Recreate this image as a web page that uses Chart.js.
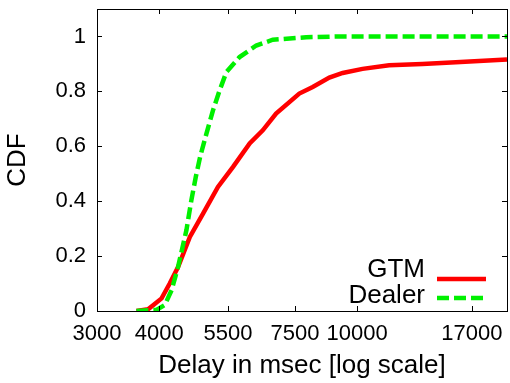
<!DOCTYPE html>
<html>
<head>
<meta charset="utf-8">
<script src="https://cdn.jsdelivr.net/npm/chart.js@4.4.1/dist/chart.umd.min.js"></script>
<style>
  body { margin: 0; background: #fff; }
  canvas { display: block; }
</style>
</head>
<body>
<canvas id="mycanvas" width="510" height="383"></canvas>
<script>
// values
var xTicks = [3000, 4000, 5500, 7500, 10000, 17000];
var yTicks = [0, 0.2, 0.4, 0.6, 0.8, 1];

var gtmX = [3600, 3800, 4045, 4200, 4365, 4610, 4900, 5250, 5630, 6080, 6460, 6870, 7650, 8140, 8790, 9350, 10250, 11590, 13520, 15780, 20000];
var gtmY = [0, 0.006, 0.046, 0.10, 0.16, 0.27, 0.355, 0.452, 0.525, 0.61, 0.658, 0.719, 0.792, 0.816, 0.85, 0.867, 0.882, 0.895, 0.90, 0.906, 0.916];

var dealerX = [3600, 3950, 4106, 4237, 4365, 4538, 4643, 4738, 4840, 4978, 5131, 5292, 5458, 5803, 6268, 6767, 7894, 9200, 20000];
var dealerY = [0, 0.004, 0.022, 0.076, 0.16, 0.295, 0.404, 0.488, 0.565, 0.646, 0.731, 0.804, 0.870, 0.925, 0.967, 0.988, 0.997, 1.0, 1.0];

function toPoints(xs, ys) {
  var pts = [];
  for (var i in xs) {
    pts.push({ x: xs[i], y: ys[i] });
  }
  return pts;
}

var FONT = "'Liberation Sans', Arial, Helvetica, sans-serif";

// frame, inward ticks on all four sides, and the legend box
var framePlugin = {
  id: 'frame',
  afterDraw: function(chart) {
    var ctx = chart.ctx;
    var a = chart.chartArea;
    var xs = chart.scales.x, ys = chart.scales.y;
    var tl = 5;
    ctx.save();
    ctx.strokeStyle = '#000';
    ctx.lineWidth = 1;
    ctx.beginPath();
    xTicks.forEach(function(v) {
      var px = Math.round(xs.getPixelForValue(v)) + 0.5;
      ctx.moveTo(px, a.bottom); ctx.lineTo(px, a.bottom - tl);
      ctx.moveTo(px, a.top); ctx.lineTo(px, a.top + tl);
    });
    yTicks.forEach(function(v) {
      var py = Math.round(ys.getPixelForValue(v)) + 0.5;
      ctx.moveTo(a.left, py); ctx.lineTo(a.left + tl, py);
      ctx.moveTo(a.right, py); ctx.lineTo(a.right - tl, py);
    });
    ctx.stroke();
    ctx.strokeRect(Math.round(a.left) + 0.5, Math.round(a.top) + 0.5,
                   Math.round(a.right - a.left), Math.round(a.bottom - a.top));

    // legend
    ctx.font = '26px ' + FONT;
    ctx.fillStyle = '#000';
    ctx.textAlign = 'right';
    ctx.textBaseline = 'alphabetic';
    var rows = [
      { ds: chart.data.datasets[0], base: 277, ly: 279 },
      { ds: chart.data.datasets[1], base: 303, ly: 298 }
    ];
    rows.forEach(function(r) {
      ctx.fillText(r.ds.label, 425, r.base);
      ctx.beginPath();
      ctx.strokeStyle = r.ds.borderColor;
      ctx.lineWidth = r.ds.borderWidth;
      ctx.setLineDash(r.ds.borderDash || []);
      ctx.moveTo(437, r.ly);
      ctx.lineTo(486, r.ly);
      ctx.stroke();
      ctx.setLineDash([]);
    });
    ctx.restore();
  }
};

var chartdata = {
  datasets: [
    {
      label: 'GTM',
      data: toPoints(gtmX, gtmY),
      borderColor: '#ff0000',
      borderWidth: 4.5,
      pointRadius: 0,
      tension: 0,
      fill: false,
      order: 1
    },
    {
      label: 'Dealer',
      data: toPoints(dealerX, dealerY),
      borderColor: '#00f000',
      borderWidth: 4.5,
      borderDash: [12, 5],
      pointRadius: 0,
      tension: 0,
      fill: false,
      order: 0
    }
  ]
};

var ctx = document.getElementById('mycanvas');

var LineGraph = new Chart(ctx, {
  type: 'line',
  data: chartdata,
  plugins: [framePlugin],
  options: {
    responsive: false,
    animation: false,
    layout: { padding: { top: 9, right: 3, left: 0, bottom: 0 } },
    scales: {
      x: {
        type: 'logarithmic',
        min: 3000,
        max: 20000,
        afterBuildTicks: function(scale) {
          scale.ticks = xTicks.map(function(v) { return { value: v }; });
        },
        afterFit: function(scale) {
          scale.height = 72;
          scale.paddingLeft = 0;
          scale.paddingRight = 0;
        },
        ticks: {
          autoSkip: false,
          maxRotation: 0,
          padding: 10,
          color: '#000',
          font: { family: FONT, size: 22 },
          callback: function(v) { return String(v); }
        },
        grid: { display: false, drawTicks: false },
        border: { display: false },
        title: {
          display: true,
          text: 'Delay in msec [log scale]',
          color: '#000',
          font: { family: FONT, size: 26 },
          padding: { top: 0, bottom: 2 }
        }
      },
      y: {
        min: 0,
        max: 1.1,
        afterBuildTicks: function(scale) {
          scale.ticks = yTicks.map(function(v) { return { value: v }; });
        },
        afterFit: function(scale) {
          scale.width = 97;
          scale.paddingTop = 0;
          scale.paddingBottom = 0;
        },
        ticks: {
          padding: 11,
          color: '#000',
          font: { family: FONT, size: 22 },
          callback: function(v) { return String(v); }
        },
        grid: { display: false, drawTicks: false },
        border: { display: false },
        title: {
          display: true,
          text: 'CDF',
          color: '#000',
          font: { family: FONT, size: 26 },
          padding: { top: 2, bottom: 0 }
        }
      }
    },
    plugins: {
      legend: { display: false },
      tooltip: { enabled: false }
    }
  }
});
</script>
</body>
</html>
